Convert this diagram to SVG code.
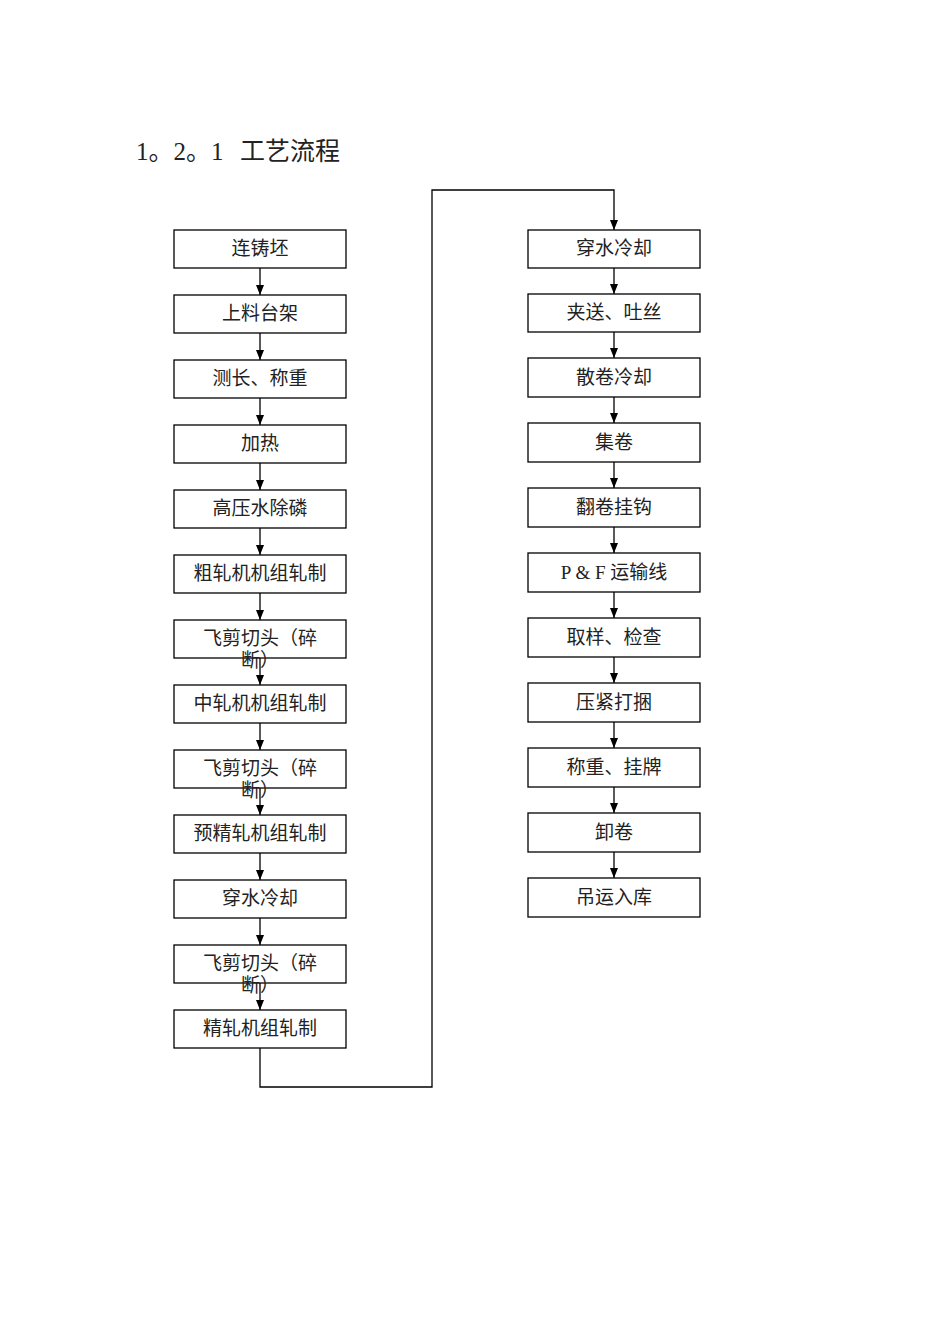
<svg xmlns="http://www.w3.org/2000/svg" width="950" height="1344" viewBox="0 0 950 1344">
<style>
.box{fill:#fff;stroke:#000;stroke-width:1.3}
.t{font-family:"Liberation Serif","Noto Sans CJK SC",serif;font-size:19px;text-anchor:middle;fill:#222}
.ttl{font-family:"Liberation Serif","Noto Sans CJK SC",serif;font-size:25px;fill:#222}
.c{fill:none;stroke:#000;stroke-width:1.3}
</style>
<defs>
<marker id="ah" markerWidth="10" markerHeight="8" refX="10" refY="4" orient="auto" markerUnits="userSpaceOnUse" viewBox="0 0 10 8">
<path d="M0,0 L10,4 L0,8 Z" fill="#000"/>
</marker>
</defs>
<rect width="950" height="1344" fill="#fff"/>
<text class="ttl" x="136" y="160">1。2。1<tspan x="240">工艺流程</tspan></text>
<g id="connectors">
<line class="c" x1="260" y1="268" x2="260" y2="295" marker-end="url(#ah)"/>
<line class="c" x1="260" y1="333" x2="260" y2="360" marker-end="url(#ah)"/>
<line class="c" x1="260" y1="398" x2="260" y2="425" marker-end="url(#ah)"/>
<line class="c" x1="260" y1="463" x2="260" y2="490" marker-end="url(#ah)"/>
<line class="c" x1="260" y1="528" x2="260" y2="555" marker-end="url(#ah)"/>
<line class="c" x1="260" y1="593" x2="260" y2="620" marker-end="url(#ah)"/>
<line class="c" x1="260" y1="658" x2="260" y2="685" marker-end="url(#ah)"/>
<line class="c" x1="260" y1="723" x2="260" y2="750" marker-end="url(#ah)"/>
<line class="c" x1="260" y1="788" x2="260" y2="815" marker-end="url(#ah)"/>
<line class="c" x1="260" y1="853" x2="260" y2="880" marker-end="url(#ah)"/>
<line class="c" x1="260" y1="918" x2="260" y2="945" marker-end="url(#ah)"/>
<line class="c" x1="260" y1="983" x2="260" y2="1010" marker-end="url(#ah)"/>
<polyline class="c" points="260,1048 260,1087 432,1087 432,190 614,190 614,230" marker-end="url(#ah)"/>
<line class="c" x1="614" y1="268" x2="614" y2="294" marker-end="url(#ah)"/>
<line class="c" x1="614" y1="332" x2="614" y2="358" marker-end="url(#ah)"/>
<line class="c" x1="614" y1="397" x2="614" y2="423" marker-end="url(#ah)"/>
<line class="c" x1="614" y1="462" x2="614" y2="488" marker-end="url(#ah)"/>
<line class="c" x1="614" y1="527" x2="614" y2="553" marker-end="url(#ah)"/>
<line class="c" x1="614" y1="592" x2="614" y2="618" marker-end="url(#ah)"/>
<line class="c" x1="614" y1="657" x2="614" y2="683" marker-end="url(#ah)"/>
<line class="c" x1="614" y1="722" x2="614" y2="748" marker-end="url(#ah)"/>
<line class="c" x1="614" y1="787" x2="614" y2="813" marker-end="url(#ah)"/>
<line class="c" x1="614" y1="852" x2="614" y2="878" marker-end="url(#ah)"/>
</g>
<g id="n1"><rect class="box" x="174" y="230" width="172" height="38"/><text class="t" x="260" y="255">连铸坯</text></g>
<g id="n2"><rect class="box" x="174" y="295" width="172" height="38"/><text class="t" x="260" y="320">上料台架</text></g>
<g id="n3"><rect class="box" x="174" y="360" width="172" height="38"/><text class="t" x="260" y="385">测长、称重</text></g>
<g id="n4"><rect class="box" x="174" y="425" width="172" height="38"/><text class="t" x="260" y="450">加热</text></g>
<g id="n5"><rect class="box" x="174" y="490" width="172" height="38"/><text class="t" x="260" y="515">高压水除磷</text></g>
<g id="n6"><rect class="box" x="174" y="555" width="172" height="38"/><text class="t" x="260" y="580">粗轧机机组轧制</text></g>
<g id="n7"><rect class="box" x="174" y="620" width="172" height="38"/><text class="t" x="260" y="645">飞剪切头（碎</text><text class="t" x="260" y="667">断）</text></g>
<g id="n8"><rect class="box" x="174" y="685" width="172" height="38"/><text class="t" x="260" y="710">中轧机机组轧制</text></g>
<g id="n9"><rect class="box" x="174" y="750" width="172" height="38"/><text class="t" x="260" y="775">飞剪切头（碎</text><text class="t" x="260" y="797">断）</text></g>
<g id="n10"><rect class="box" x="174" y="815" width="172" height="38"/><text class="t" x="260" y="840">预精轧机组轧制</text></g>
<g id="n11"><rect class="box" x="174" y="880" width="172" height="38"/><text class="t" x="260" y="905">穿水冷却</text></g>
<g id="n12"><rect class="box" x="174" y="945" width="172" height="38"/><text class="t" x="260" y="970">飞剪切头（碎</text><text class="t" x="260" y="992">断）</text></g>
<g id="n13"><rect class="box" x="174" y="1010" width="172" height="38"/><text class="t" x="260" y="1035">精轧机组轧制</text></g>
<g id="m1"><rect class="box" x="528" y="230" width="172" height="38"/><text class="t" x="614" y="255">穿水冷却</text></g>
<g id="m2"><rect class="box" x="528" y="294" width="172" height="38"/><text class="t" x="614" y="319">夹送、吐丝</text></g>
<g id="m3"><rect class="box" x="528" y="358" width="172" height="39"/><text class="t" x="614" y="384">散卷冷却</text></g>
<g id="m4"><rect class="box" x="528" y="423" width="172" height="39"/><text class="t" x="614" y="449">集卷</text></g>
<g id="m5"><rect class="box" x="528" y="488" width="172" height="39"/><text class="t" x="614" y="514">翻卷挂钩</text></g>
<g id="m6"><rect class="box" x="528" y="553" width="172" height="39"/><text class="t" x="614" y="579">P &amp; F 运输线</text></g>
<g id="m7"><rect class="box" x="528" y="618" width="172" height="39"/><text class="t" x="614" y="644">取样、检查</text></g>
<g id="m8"><rect class="box" x="528" y="683" width="172" height="39"/><text class="t" x="614" y="709">压紧打捆</text></g>
<g id="m9"><rect class="box" x="528" y="748" width="172" height="39"/><text class="t" x="614" y="774">称重、挂牌</text></g>
<g id="m10"><rect class="box" x="528" y="813" width="172" height="39"/><text class="t" x="614" y="839">卸卷</text></g>
<g id="m11"><rect class="box" x="528" y="878" width="172" height="39"/><text class="t" x="614" y="904">吊运入库</text></g>
</svg>
